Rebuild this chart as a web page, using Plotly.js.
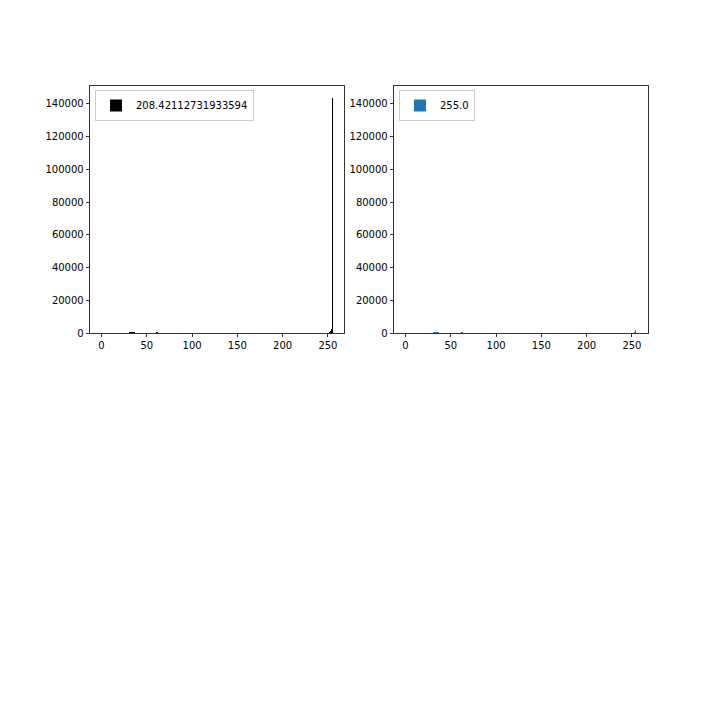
<!DOCTYPE html>
<html>
<head>
<meta charset="utf-8">
<script src="https://cdn.plot.ly/plotly-3.0.1.min.js"></script>
<style>html,body{margin:0;padding:0;background:#fff;}#chart{width:720px;height:720px;}</style>
</head>
<body>
<div id="chart"></div>
<script>
// Histogram bins (pixel value) and counts
const leftBins   = [30, 31, 32, 33, 34, 35, 36, 37, 61, 62, 63, 252, 253, 254, 255];
const leftCounts = [300, 500, 700, 800, 700, 600, 500, 300, 400, 600, 300, 500, 1500, 2500, 143800];
const leftName = "208.42112731933594";

const rightBins   = [31, 32, 33, 34, 35, 36, 62, 63, 253, 254];
const rightCounts = [500, 800, 600, 400, 700, 500, 600, 400, 800, 2000];
const rightName = "255.0";

const xTicks = [0, 50, 100, 150, 200, 250];
const yTicks = [0, 20000, 40000, 60000, 80000, 100000, 120000, 140000];

const font = {family: "DejaVu Sans", size: 10, color: "#000"};

const traces = [
  {type: "bar", x: leftBins, y: leftCounts, width: 1, name: leftName,
   marker: {color: "#000000", line: {width: 0}}, xaxis: "x", yaxis: "y", legend: "legend", showlegend: true},
  {type: "bar", x: rightBins, y: rightCounts, width: 1, name: rightName,
   marker: {color: "#1f77b4", line: {width: 0}}, xaxis: "x2", yaxis: "y2", legend: "legend2", showlegend: true}
];

const xAxisBase = {
  range: [-12.75, 267.75], tickvals: xTicks, ticktext: xTicks.map(String),
  ticks: "outside", ticklen: 3.5, tickwidth: 0.8, tickcolor: "#000",
  showline: true, linecolor: "#000", linewidth: 0.8, mirror: true,
  showgrid: false, zeroline: false, tickfont: font, fixedrange: true
};
const yAxisBase = {
  range: [0, 151000], tickvals: yTicks, ticktext: yTicks.map(String),
  ticks: "outside", ticklen: 3.5, tickwidth: 0.8, tickcolor: "#000",
  showline: true, linecolor: "#000", linewidth: 0.8, mirror: true,
  showgrid: false, zeroline: false, tickfont: font, fixedrange: true
};

const yDom = [1 - 333/720, 1 - 86/720];
const legendBase = {
  font: font, bgcolor: "rgba(255,255,255,0.8)", bordercolor: "#cccccc", borderwidth: 1,
  xanchor: "left", yanchor: "top", itemsizing: "constant"
};

const layout = {
  width: 720, height: 720,
  margin: {l: 0, r: 0, t: 0, b: 0},
  paper_bgcolor: "#fff", plot_bgcolor: "#fff",
  font: font, bargap: 0, barmode: "overlay",
  xaxis: Object.assign({}, xAxisBase, {domain: [90/720, 344/720], anchor: "y"}),
  yaxis: Object.assign({}, yAxisBase, {domain: yDom, anchor: "x"}),
  xaxis2: Object.assign({}, xAxisBase, {domain: [394/720, 648/720], anchor: "y2"}),
  yaxis2: Object.assign({}, yAxisBase, {domain: yDom, anchor: "x2"}),
  legend: Object.assign({}, legendBase, {x: 95/720, y: 1 - 90/720}),
  legend2: Object.assign({}, legendBase, {x: 399/720, y: 1 - 90/720}),
  hovermode: false
};

Plotly.newPlot("chart", traces, layout, {displayModeBar: false, staticPlot: true});
</script>
</body>
</html>
